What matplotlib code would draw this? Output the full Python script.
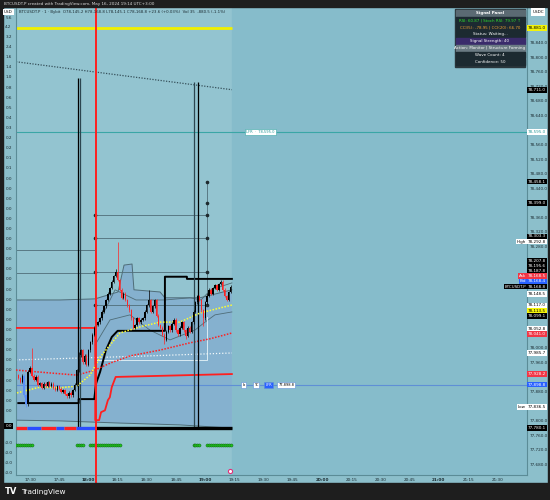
import matplotlib
matplotlib.use("Agg")
import matplotlib.pyplot as plt
from matplotlib.patches import Rectangle
import numpy as np

plt.rcParams["font.family"] = ["DejaVu Sans"]

# ---------------- data (x = minutes after 17:00, y = price) ----------------
bar_start = 24
first_open = 77925
closes = [
    77917, 77906, 77923, 77870, 77845, 77934, 77945, 77923, 77912, 77920,  # 17:24
    77898, 77903, 77890, 77901, 77895, 77906, 77895, 77901, 77890, 77884,  # 17:34
    77895, 77887, 77879, 77884, 77873, 77867, 77876, 77870, 77884, 77898,  # 17:44
    77939, 77980, 77994, 77961, 77978, 77953, 77994, 78016, 78036, 78055,  # 17:54
    78063, 78071, 78082, 78099, 78115, 78132, 78149, 78165, 78182, 78198,  # 18:04
    78209, 78187, 78160, 78138, 78149, 78132, 78118, 78104, 78082, 78055,  # 18:14
    78063, 78082, 78071, 78077, 78082, 78099, 78118, 78132, 78099, 78115,  # 18:24
    78132, 78088, 78063, 78055, 78036, 78022, 78044, 78060, 78049, 78066,  # 18:34
    78077, 78049, 78038, 78055, 78071, 78049, 78033, 78055, 78044, 78071,  # 18:44
    78099, 78126, 78143, 78132, 78104, 78082, 78126, 78143, 78160, 78149,  # 18:54
    78165, 78173, 78160, 78176, 78182, 78160, 78143, 78132, 78154, 78168,  # 19:04
]
wick_highs = {31: 78000, 55: 77990, 74: 78218, 75: 78293, 91: 78160, 121: 78150}
wick_lows = {28: 77837, 99: 78010, 110: 78025, 119: 78060}
blue_bars = [27, 28]

ma_fast_t = [23.3, 35.1, 45.4, 54.1, 60.8, 66.0, 76.2, 86.5, 96.8, 107.0, 117.3, 127.6, 133.7]
ma_fast_p = [77876, 77892, 77890, 77895, 77925, 77975, 78041, 78058, 78071, 78071, 78096, 78110, 78118]
ma_slow_t = [22.8, 40.3, 54.1, 63.4, 71.1, 81.4, 96.8, 112.2, 122.4, 133.7]
ma_slow_p = [77939, 77931, 77925, 77939, 77958, 77978, 77994, 78014, 78025, 78041]
ma_white_t = [22.8, 55.0, 91.0, 133.7]
ma_white_p = [77967, 77972, 77978, 77986]

trail_t = [24, 55, 55, 63, 64, 66, 69, 72, 75, 99.3, 99.3, 110.6, 110.6, 133.7]
trail_p = [77848, 77848, 77859, 77859, 77903, 77934, 77994, 78030, 78047, 78047, 78196, 78196, 78190, 78190]
red_step_t = [22.8, 63.5, 63.5, 65.5, 66.5, 68.5, 70, 71, 72, 74, 133.7]
red_step_p = [78055, 78055, 77801, 77801, 77823, 77828, 77856, 77864, 77892, 77920, 77928]

band_up_t = [22.8, 45.4, 63.4, 75.2, 78.3, 82.4, 83.4, 96.8, 99.3, 117.3, 133.7]
band_up_p = [78132, 78132, 78135, 78154, 78228, 78231, 78160, 78154, 78138, 78138, 78160]
band_lo_t = [22.8, 45.4, 76.2, 107.0, 133.7]
band_lo_p = [77801, 77799, 77793, 77788, 77779]
env_hi_t = [63.4, 68.5, 73.7, 84.4, 99.3, 112.2, 117.8, 122.9, 133.7]
env_hi_p = [78049, 78104, 78160, 78132, 78132, 78138, 78132, 78160, 78179]
env_lo_t = [63.4, 71.1, 81.4, 91.6, 101.9, 114.7, 119.9, 125.0, 133.7]
env_lo_p = [78008, 78077, 78091, 78049, 78022, 78049, 78071, 78091, 78099]

fib_levels = [78365, 78303.3, 78207.8, 78117.0]
fib_t0, fib_t1 = 63.4, 120.9
fib_extra = [78458.1, 78399.0]
left_levels = [78270, 78206]

spikes_t = [54.7, 55.7, 114.2, 116.3]
spikes_top = [78744, 78744, 78733, 78733]
spike_base = 77780.1

trend_t = [22.8, 133.7]
trend_p = [78788, 78711]
yellow_level = 78881.0
cyan_level = 78595.0
blue_level = 77898.8
now_minute = 133.7
red_marker_minute = 63.9

signal_minutes = list(range(23, 32)) + list(range(54, 58)) + list(range(61, 77)) + \
    list(range(114, 118)) + list(range(121, 134))
signal_level = 77732
state_segments = [(22.8, 28.5, "#ff2020"), (28.5, 35.5, "#2a4dff"), (35.5, 43.5, "#ff2020"),
                  (43.5, 47.5, "#2a4dff"), (47.5, 53.5, "#ff2020"), (53.5, 63.5, "#2a4dff"),
                  (63.5, 133.7, "#000000")]

time_ticks = [30, 45, 60, 75, 90, 105, 120, 135, 150, 165, 180, 195, 210, 225, 240, 255, 270]
time_labels = ["17:30", "17:45", "18:00", "18:15", "18:30", "18:45", "19:00", "19:15", "19:30",
               "19:45", "20:00", "20:15", "20:30", "20:45", "21:00", "21:15", "21:30"]
price_ticks = [78840, 78800, 78760, 78720, 78680, 78640, 78600, 78560, 78520, 78480, 78440,
               78360, 78320, 78280, 78000, 77960, 77880, 77800, 77760, 77720, 77680]

price_tags = [  # value, background, text colour, tag on the left
    (78881.0, "#f2f20a", "black", None),
    (78711.0, "black", "white", None),
    (78595.0, "white", "#2a9a9a", None),
    (78458.1, "black", "white", None),
    (78399.0, "black", "white", None),
    (78303.3, "black", "white", None),
    (78292.8, "white", "black", "High"),
    (78207.8, "black", "white", None),
    (78195.6, "black", "white", None),
    (78187.8, "black", "white", None),
    (78168.5, "#f23645", "white", "Ask"),
    (78168.4, "#2962ff", "white", "Bid"),
    (78168.8, "black", "white", "BTCUSDT.P"),
    (78148.5, "white", "black", None),
    (78117.0, "white", "black", None),
    (78113.5, "#f5f50a", "black", None),
    (78099.1, "black", "white", None),
    (78052.8, "white", "black", None),
    (78041.0, "#f23645", "white", None),
    (77985.7, "white", "black", None),
    (77928.2, "#f23645", "white", None),
    (77898.8, "#2962ff", "white", None),
    (77836.5, "white", "black", "Low"),
    (77780.1, "black", "white", None),
]
last_tag = 12

left_labels = ["4.2", "3.2", "2.4", "1.6", "1.4", "1.0", "0.8", "0.6", "0.5", "0.4", "0.3",
               "0.2", "0.2", "0.1", "0.1"] + ["0.0"] * 24
left_neg_labels = ["-0.0"] * 4

panel_rows = [
    ("Signal Panel", "#5b6a73", "white"),
    ("RSI: 60.87 | Stoch RSI: 79.97 \u2191", "#1c2a31", "#2fe02f"),
    ("CCI(5): -78.95 | CCI(20): 66.70", "#1c2a31", "#f0a030"),
    ("Status: Waiting...", "#1c2a31", "white"),
    ("Signal Strength: 40", "#3a2b6b", "white"),
    ("Action: Monitor | Structure Forming", "#6a7a83", "white"),
    ("Wave Count: 4", "#1c2a31", "white"),
    ("Confidence: 50", "#1c2a31", "white"),
]

title_text = "BTCUSDT.P created with TradingView.com, May 16, 2024 19:14 UTC+3:00"
legend_text = ("BTCUSDT.P \u00b7 1 \u00b7 Bybit  O78,145.2 H78,168.8 L78,145.1 C78,168.8 "
               "+23.6 (+0.03%)  Vol 35  -880.5 (-1.1%)")

# ---------------- figure ----------------
W, H = 550, 500
plot_bg = "#93c4d0"
future_bg = "#86bccb"
strip_bg = "#8cbfcb"
dark = "#1e1e1e"

fig = plt.figure(figsize=(5.5, 5.0), dpi=100, facecolor=strip_bg)
L, R, T, B = 16, 527, 8, 475
ax = fig.add_axes([L / W, 1 - B / H, (R - L) / W, (B - T) / H])
ax.set_facecolor(plot_bg)
ax.set_xlim(22.8, 285.3)
ax.set_ylim(77650, 78936)

ax.axvspan(now_minute, 285.3, color=future_bg, zorder=0)

# band fill
poly_t = band_up_t + band_lo_t[::-1]
poly_p = band_up_p + band_lo_p[::-1]
ax.fill(poly_t, poly_p, color="#85b1cf", lw=0, zorder=0.5)
ax.plot(band_up_t, band_up_p, color="#4f6d78", lw=0.7, zorder=1)
ax.plot(band_lo_t, band_lo_p, color="#4f6d78", lw=0.7, zorder=1)
ax.plot(env_hi_t, env_hi_p, color="#4f6d78", lw=0.6, zorder=1)
ax.plot(env_lo_t, env_lo_p, color="#4f6d78", lw=0.6, zorder=1)

# horizontal reference lines
ax.hlines(yellow_level, 22.8, now_minute, color="#f0f000", lw=2, zorder=2)
ax.plot(trend_t, trend_p, color="#36505a", lw=0.9, ls=(0, (1, 1.2)), zorder=2)
ax.axhline(cyan_level, color="#3aa6a6", lw=0.8, zorder=1)
ax.axhline(blue_level, color="#5f8fd6", lw=0.8, zorder=1)
for lv in left_levels:
    ax.hlines(lv, 22.8, fib_t0, color="#4f6d78", lw=0.6, zorder=1)
for lv in fib_levels:
    ax.hlines(lv, fib_t0, fib_t1, color="#4f6d78", lw=0.6, zorder=1)
    ax.plot([fib_t0, fib_t1], [lv, lv], "o", ms=1.6, color="#1e2a2e", zorder=3)
ax.vlines(fib_t0, min(fib_levels), max(fib_levels), color="#4f6d78", lw=0.6, zorder=1)
ax.vlines(fib_t1, min(fib_levels), max(fib_extra), color="#4f6d78", lw=0.6, zorder=1)
ax.plot([fib_t1] * len(fib_extra), fib_extra, "o", ms=1.6, color="#1e2a2e", zorder=3)

# white box + lines
ax.plot([fib_t0, fib_t1, fib_t1], [77967, 77967, 78085], color="#e8f4f8", lw=0.6, zorder=2)
ax.plot(ma_white_t, ma_white_p, color="#f2f8fa", lw=0.9, ls=(0, (1, 1.5)), zorder=2)

# stepped lines
ax.plot(red_step_t, red_step_p, color="#ff1f1f", lw=1.3, zorder=3)
ax.plot(trail_t, trail_p, color="black", lw=1.4, zorder=3)
ax.plot(ma_slow_t, ma_slow_p, color="#ff2020", lw=1.1, ls=(0, (1, 1)), zorder=3)
ax.plot(ma_fast_t, ma_fast_p, color="#ffff30", lw=1.1, ls=(0, (1, 1)), zorder=4)

# tall spikes
for t, top, c in zip(spikes_t, spikes_top, ["black", "#2c4650", "#2c4650", "black"]):
    ax.vlines(t, spike_base, top, color=c, lw=0.9, zorder=3)

# state bar + signal dots
for t0, t1, c in state_segments:
    ax.hlines(spike_base, t0, t1, color=c, lw=2.4, zorder=4)
ax.scatter(signal_minutes, [signal_level] * len(signal_minutes), s=5, color="#21c121",
           edgecolors="#0b5e0b", linewidths=0.3, zorder=4)

# candles
opens = [first_open] + closes[:-1]
for i, (o, c) in enumerate(zip(opens, closes)):
    t = bar_start + i
    hi = wick_highs.get(t, max(o, c) + 4)
    lo = wick_lows.get(t, min(o, c) - 4)
    if t in blue_bars:
        col = "#5b8ff9"
    elif c >= o:
        col = "black"
    else:
        col = "#ff2424"
    ax.vlines(t, lo, hi, color=col, lw=0.5, zorder=5)
    ax.bar(t, max(abs(c - o), 2), bottom=min(o, c), width=0.7, color=col, lw=0, zorder=5)

# red time marker (runs through the time strip)
ax.axvline(red_marker_minute, color="#ff2020", lw=1.4, zorder=6, clip_on=False, ymin=-0.017)
ax.plot([now_minute - 0.8], [77660], "o", ms=3, mfc="white", mec="#e0307a", mew=0.8, zorder=6)

# axes cosmetics
ax.spines["top"].set_visible(False)
for s in ["left", "right", "bottom"]:
    ax.spines[s].set_color("#5b8c97")
    ax.spines[s].set_linewidth(0.8)
ax.yaxis.tick_right()
ax.set_yticks(price_ticks)
ax.set_yticklabels([f"{v:,.1f}" for v in price_ticks])
ax.set_xticks(time_ticks)
ax.set_xticklabels(time_labels)
ax.tick_params(axis="both", length=0, labelsize=3.0, colors="#1b2a30", pad=2)
for lbl in ax.get_xticklabels():
    if lbl.get_text().endswith(":00"):
        lbl.set_fontweight("bold")

# price tags on the right axis, stacked like TradingView does
ypix = [ax.transData.transform((0, v))[1] for v, *_ in price_tags]
gap = 5.2
for k in range(last_tag - 1, -1, -1):
    ypix[k] = max(ypix[k], ypix[k + 1] + gap)
for k in range(last_tag + 1, len(price_tags)):
    ypix[k] = min(ypix[k], ypix[k - 1] - gap)
for (v, bg, fg, tag), yp in zip(price_tags, ypix):
    fig.text((R + 1) / W, yp / H, f"{v:,.1f}", fontsize=3.0, color=fg, va="center", ha="left",
             bbox=dict(boxstyle="square,pad=0.2", fc=bg, ec="none"), zorder=10)
    if tag:
        fig.text((R - 1) / W, yp / H, tag, fontsize=2.9, color=fg if bg == "white" else "white",
                 va="center", ha="right",
                 bbox=dict(boxstyle="square,pad=0.2", fc=bg, ec="none"), zorder=10)

# left scale
for k, lab in enumerate(left_labels):
    fig.text(8.5 / W, 1 - (27 + 10.1 * k) / H, lab, fontsize=3.0, color="#1b2a30", ha="center", va="center")
fig.text(8.5 / W, 1 - 18 / H, "5.6", fontsize=3.0, color="#1b2a30", ha="center", va="center")
fig.text(8.5 / W, 1 - 426 / H, "0.0", fontsize=3.0, color="white", ha="center", va="center",
         bbox=dict(boxstyle="square,pad=0.3", fc="black", ec="none"))
for k, lab in enumerate(left_neg_labels):
    fig.text(8.5 / W, 1 - (443 + 10 * k) / H, lab, fontsize=3.0, color="#1b2a30", ha="center", va="center")

# frame: top and bottom dark bars, side edges
fig.patches.append(Rectangle((0, 1 - 7 / H), 1, 7 / H, transform=fig.transFigure, color=dark, zorder=0))
fig.patches.append(Rectangle((0, 0), 1, 17 / H, transform=fig.transFigure, color=dark, zorder=0))
fig.patches.append(Rectangle((0, 0), 2.5 / W, 1, transform=fig.transFigure, color=dark, zorder=0))
fig.patches.append(Rectangle((1 - 2.5 / W, 0), 2.5 / W, 1, transform=fig.transFigure, color=dark, zorder=0))
fig.text(4 / W, 1 - 3.5 / H, title_text, fontsize=3.0, color="#d8d8d8", va="center", ha="left")
fig.text(5 / W, 8 / H, "TV", fontsize=6.0, color="white", fontweight="bold", va="center", ha="left")
fig.text(21 / W, 8 / H, "TradingView", fontsize=5.3, color="white", va="center", ha="left")

# currency boxes
fig.text(8.5 / W, 1 - 12 / H, "USD", fontsize=3.0, color="black", ha="center", va="center",
         bbox=dict(boxstyle="square,pad=0.3", fc="white", ec="none"))
fig.text(538 / W, 1 - 12 / H, "USDC", fontsize=3.0, color="black", ha="center", va="center",
         bbox=dict(boxstyle="square,pad=0.4", fc="white", ec="none"))

# legend line
fig.text(19 / W, 1 - 11.5 / H, legend_text, fontsize=2.8, color="#1b2a30", va="center", ha="left")

# line labels in the chart
ax.text(141, cyan_level, "LFR  \u00b7  78,595.0", fontsize=2.6, color="#2a9a9a", va="center", ha="left",
        bbox=dict(boxstyle="square,pad=0.3", fc="white", ec="#3aa6a6", lw=0.4), zorder=7)
for t, txt, bg, fg in [(139, "b", "white", "black"), (145, "TC", "white", "black"),
                       (151, "LFR", "#2962ff", "white"), (157.5, "77,898.8", "white", "black")]:
    ax.text(t, blue_level, txt, fontsize=2.6, color=fg, va="center", ha="left",
            bbox=dict(boxstyle="square,pad=0.3", fc=bg, ec="#5f8fd6", lw=0.4), zorder=7)

# signal panel
px0, px1 = 455, 525
fig.patches.append(Rectangle((px0 / W, 1 - 67 / H), (px1 - px0) / W, 58 / H,
                             transform=fig.transFigure, color="#2a363c", zorder=8))
for k, (txt, bg, fg) in enumerate(panel_rows):
    y0 = 10 + 7 * k
    fig.patches.append(Rectangle(((px0 + 0.5) / W, 1 - (y0 + 6.3) / H), (px1 - px0 - 1) / W, 6.3 / H,
                                 transform=fig.transFigure, color=bg, zorder=9))
    fig.text((px0 + px1) / 2 / W, 1 - (y0 + 3.3) / H, txt, fontsize=2.9, color=fg, ha="center",
             va="center", fontweight="bold" if k == 0 else "normal", zorder=10)

fig.savefig("out.png", dpi=100, facecolor=fig.get_facecolor())
